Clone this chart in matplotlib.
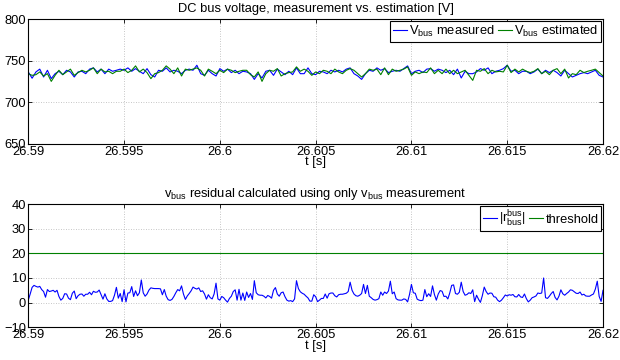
import numpy as np
import matplotlib
matplotlib.use("Agg")
import matplotlib.pyplot as plt

# ---------------- data ----------------
t_start, t_end = 26.59, 26.62

v_measured = [
    736.6, 729, 736.6, 740, 730.5, 738.6, 728.5, 734.5, 737.4, 733.3,
    738.6, 736.6, 730.5, 736.6, 737.4, 734.5, 740, 741.5, 736.6, 740,
    734.5, 740, 737.4, 738.6, 740, 738.6, 741.5, 737.4, 740.6, 737.4,
    734.5, 740.6, 733.3, 730.5, 738.6, 737.4, 741.5, 736.6, 738.6, 737.4,
    734.5, 738.6, 740, 738.6, 744.7, 734.5, 732.5, 738.6, 734.5, 731.7,
    740.6, 737.4, 740, 735.8, 738.6, 734.5, 737.4, 736.6, 734.5, 727.6,
    734.5, 729.3, 737.4, 738.6, 732.5, 740, 736.6, 733.3, 737.4, 733.3,
    741.5, 734.5, 734.5, 741.5, 734.5, 733.3, 737.4, 736.6, 734.5, 738.6,
    736.6, 738.6, 736.6, 740, 741.5, 734.5, 731.7, 727.6, 734.5, 738.6,
    737.4, 741.5, 738.6, 740.6, 735.8, 737.4, 738.6, 737.4, 740.6, 743.9,
    734.5, 737.4, 738.6, 735.8, 740, 740.6, 737.4, 740, 738.6, 735.8,
    738.6, 733.3, 740, 729.3, 737.4, 734.5, 734.5, 736.6, 740.6, 738.6,
    741.5, 734.5, 737.4, 738.6, 740.6, 744.7, 737.4, 738.6, 734.5, 737.4,
    737.4, 734.5, 736.6, 740, 734.5, 738.6, 735.8, 738.6, 735.8, 731.7,
    738.6, 734.5, 730.5, 732.5, 734.5, 735.8, 734.5, 736.6, 738.6, 732.5,
    730.5,
]

v_estimated = [
    734.5, 732.5, 733.3, 736.6, 731.7, 734.5, 725.2, 732.5, 738.6, 733.3,
    736.6, 740, 732.5, 735.8, 738.6, 736.6, 738.6, 741.5, 734.5, 740,
    736.6, 737.4, 734.5, 737.4, 737.4, 740, 735.8, 738.6, 743.9, 736.6,
    740, 735.8, 728.5, 734.5, 735.8, 738.6, 743.9, 740, 734.5, 741.5,
    731.7, 740, 738.6, 740, 741.5, 738.6, 731.7, 740, 737.4, 734.5,
    738.6, 735.8, 740, 738.6, 735.8, 737.4, 738.6, 738.6, 733.3, 730.5,
    736.6, 725.2, 734.5, 738.6, 737.4, 740.6, 731.7, 734.5, 735.8, 736.6,
    742.7, 737.4, 740, 737.4, 732.5, 736.6, 734.5, 738.6, 737.4, 734.5,
    740, 736.6, 734.5, 738.6, 740.6, 738.6, 734.5, 730.5, 734.5, 740,
    738.6, 740, 733.3, 741.5, 733.3, 740, 737.4, 738.6, 740, 742.7,
    732.5, 736.6, 734.5, 736.6, 735.8, 741.5, 734.5, 738.6, 734.5, 740,
    734.5, 738.6, 734.5, 736.6, 738.6, 732.5, 726.4, 738.6, 737.4, 740.6,
    734.5, 738.6, 736.6, 737.4, 736.6, 744.7, 735.8, 740, 736.6, 740,
    737.4, 735.8, 737.4, 740.6, 734.5, 737.4, 733.3, 738.6, 740.6, 734.5,
    740, 729.3, 734.5, 733.3, 738.6, 735.8, 737.4, 738.6, 740, 735.8,
    731.7,
]

residual = [
    1.0, 3.5, 6.2, 7.0, 6.6, 6.3, 6.6, 5.3, 4.5, 2.2,
    5.3, 4.5, 4.7, 5.0, 4.3, 5.0, 2.5, 1.0, 1.7, 3.6,
    3.5, 1.8, 1.2, 3.8, 4.7, 1.6, 2.8, 3.4, 3.5, 2.6,
    3.4, 3.4, 4.2, 3.2, 4.6, 4.2, 4.3, 5.1, 3.3, 1.4,
    3.6, 1.5, 0.5, 0.5, 0.8, 3.0, 6.2, 1.8, 3.7, 0.4,
    5.2, 0.3, 3.9, 4.0, 6.5, 2.5, 4.8, 2.8, 4.0, 9.2,
    4.0, 2.6, 3.5, 5.1, 6.0, 5.8, 5.7, 5.7, 5.7, 5.6,
    3.2, 5.3, 2.6, 1.2, 0.9, 1.3, 2.5, 4.0, 5.3, 4.8,
    6.8, 3.5, 1.3, 2.7, 3.7, 4.8, 6.3, 5.8, 5.5, 6.0,
    4.5, 4.8, 3.5, 1.4, 3.2, 2.0, 1.5, 3.5, 7.9, 1.5,
    1.0, 2.5, 2.0, 1.0, 0.2, 1.7, 2.6, 4.5, 5.2, 1.0,
    5.4, 1.0, 3.9, 0.9, 4.3, 2.1, 3.7, 1.3, 8.9, 4.0,
    3.2, 3.0, 3.0, 2.6, 1.9, 2.9, 2.5, 1.8, 5.0, 6.1,
    3.5, 2.6, 4.0, 4.3, 2.4, 1.0, 0.6, 0.8, 0.4, 1.5,
    8.9, 5.7, 4.4, 3.8, 3.4, 2.6, 1.9, 0.6, 0.6, 3.2,
    2.4, 0.4, 1.0, 1.7, 1.7, 3.5, 1.8, 3.6, 3.9, 3.9,
    2.8, 2.3, 3.2, 3.4, 3.4, 3.6, 3.8, 4.5, 8.3, 5.0,
    3.5, 2.8, 2.6, 3.0, 3.7, 7.4, 3.7, 7.0, 2.6, 2.0,
    1.3, 1.0, 1.2, 1.6, 4.3, 3.0, 4.3, 3.7, 4.7, 8.7,
    3.6, 4.3, 1.6, 1.1, 1.0, 1.0, 1.5, 1.3, 0.3, 3.3,
    7.4, 4.0, 3.8, 1.4, 1.0, 0.8, 1.0, 5.3, 2.4, 3.6,
    2.5, 6.8, 3.3, 1.0, 3.5, 4.9, 4.6, 2.5, 2.6, 1.5,
    3.9, 7.0, 7.2, 3.7, 3.4, 4.2, 8.3, 4.5, 3.0, 3.3,
    4.0, 3.7, 5.2, 0.4, 3.0, 1.4, 0.1, 2.8, 6.3, 4.5,
    3.4, 3.9, 3.8, 2.4, 2.2, 1.0, 0.4, 1.0, 2.0, 3.1,
    2.7, 3.2, 3.0, 3.3, 2.4, 2.3, 3.3, 2.3, 2.1, 3.5,
    1.6, 0.3, 1.0, 2.0, 2.3, 2.7, 3.9, 3.7, 3.9, 10.0,
    2.0, 1.7, 2.6, 3.7, 4.5, 2.1, 1.1, 2.6, 5.2, 3.6,
    3.0, 3.7, 4.3, 5.2, 5.0, 4.4, 3.8, 3.7, 4.3, 3.1,
    3.4, 2.7, 2.6, 2.6, 3.1, 3.5, 5.5, 8.7, 2.5, 0.5,
    5.0,
]

threshold = 20

x_ticks = [26.59, 26.595, 26.6, 26.605, 26.61, 26.615, 26.62]
x_ticklabels = ["26.59", "26.595", "26.6", "26.605", "26.61", "26.615", "26.62"]
top_yticks = [650, 700, 750, 800]
bot_yticks = [-10, 0, 10, 20, 30, 40]

title_top = "DC bus voltage, measurement vs. estimation [V]"
title_bot = r"v$_{\mathrm{bus}}$ residual calculated using only v$_{\mathrm{bus}}$ measurement"
xlabel = "t [s]"
leg_top = [r"V$_{\mathrm{bus}}$ measured", r"V$_{\mathrm{bus}}$ estimated"]
leg_bot = [r"|r$^{\mathrm{bus}}_{\mathrm{bus}}$|", "threshold"]

# ---------------- style ----------------
plt.rcParams["font.family"] = ["Liberation Sans", "DejaVu Sans"]
plt.rcParams["mathtext.fontset"] = "custom"
plt.rcParams["mathtext.rm"] = "Liberation Sans"
plt.rcParams["mathtext.it"] = "Liberation Sans:italic"
FS = 9.3

fig = plt.figure(figsize=(6.2, 3.6), dpi=100)
ax1 = fig.add_axes([0.0456, 0.601, 0.927, 0.345])
ax2 = fig.add_axes([0.0456, 0.091, 0.927, 0.342])

t_top = np.linspace(t_start, t_end, len(v_measured))
t_top2 = np.linspace(t_start, t_end, len(v_estimated))
t_res = np.linspace(t_start, t_end, len(residual))

ax1.plot(t_top, v_measured, color="#0000ff", lw=0.8, label=leg_top[0])
ax1.plot(t_top2, v_estimated, color="#008000", lw=0.8, label=leg_top[1])
ax2.plot(t_res, residual, color="#0000ff", lw=0.8, label=leg_bot[0])
ax2.plot([t_start, t_end], [threshold, threshold], color="#008000", lw=0.8,
         label=leg_bot[1])

for ax, yt, ttl in ((ax1, top_yticks, title_top), (ax2, bot_yticks, title_bot)):
    ax.set_xlim(t_start, t_end)
    ax.set_ylim(yt[0], yt[-1])
    ax.set_xticks(x_ticks)
    ax.set_xticklabels(x_ticklabels)
    ax.set_yticks(yt)
    ax.tick_params(direction="in", top=True, right=True, length=3, width=0.6,
                   labelsize=FS, pad=1.5)
    ax.tick_params(axis="y", pad=1.5)
    ax.grid(True, color="#b4b4b4", linestyle=(0, (1, 2)), linewidth=0.6)
    for s in ax.spines.values():
        s.set_linewidth(0.8)
    ax.set_title(ttl, fontsize=FS, pad=5)
    ax.set_xlabel(xlabel, fontsize=FS, labelpad=-1)

for ax in (ax1, ax2):
    leg = ax.legend(loc="upper right", ncol=2, fontsize=FS, frameon=True,
                    fancybox=False, borderaxespad=0.15, handlelength=1.1,
                    handletextpad=0.2, columnspacing=0.2, borderpad=0.2)
    leg.get_frame().set_edgecolor("black")
    leg.get_frame().set_linewidth(0.8)
    leg.get_frame().set_alpha(1)

fig.savefig("out.png", dpi=100)
